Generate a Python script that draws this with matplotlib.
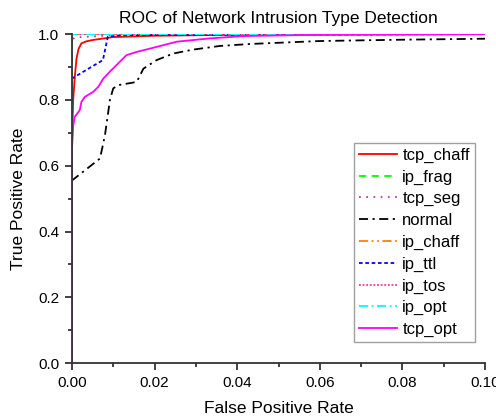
import matplotlib
matplotlib.use('Agg')
import matplotlib.pyplot as plt
from matplotlib.ticker import MultipleLocator

plt.rcParams['font.family'] = ['Liberation Sans', 'DejaVu Sans']

# ROC curves (false positive rate, true positive rate)
tcp_chaff_fpr = [0, 0, 0.0003, 0.0007, 0.0011, 0.0016, 0.0023, 0.0035, 0.005, 0.01, 0.02, 0.04, 0.1]
tcp_chaff_tpr = [0, 0.66, 0.80, 0.87, 0.925, 0.955, 0.972, 0.978, 0.982, 0.991, 0.995, 0.998, 1.0]

ip_frag_fpr = [0, 0, 0.0002, 0.1]
ip_frag_tpr = [0, 0.995, 1.0, 1.0]

tcp_seg_fpr = [0, 0, 0.001, 0.008, 0.012, 0.1]
tcp_seg_tpr = [0, 0.985, 0.99, 0.995, 1.0, 1.0]

normal_fpr = [0, 0, 0.0003, 0.0068, 0.008, 0.0092, 0.01, 0.0112, 0.0145, 0.0157, 0.0173,
              0.0205, 0.0245, 0.0294, 0.0358, 0.0431, 0.06, 0.08, 0.1]
normal_tpr = [0, 0.555, 0.558, 0.622, 0.693, 0.80, 0.835, 0.845, 0.852, 0.855, 0.895,
              0.921, 0.941, 0.953, 0.964, 0.970, 0.979, 0.983, 0.986]

ip_chaff_fpr = [0, 0, 0.0003, 0.1]
ip_chaff_tpr = [0, 0.99, 1.0, 1.0]

ip_ttl_fpr = [0, 0, 0.002, 0.0075, 0.0087, 0.012, 0.1]
ip_ttl_tpr = [0, 0.865, 0.88, 0.921, 0.992, 0.997, 1.0]

ip_tos_fpr = [0, 0, 0.0004, 0.1]
ip_tos_tpr = [0, 0.99, 1.0, 1.0]

ip_opt_fpr = [0, 0, 0.0002, 0.1]
ip_opt_tpr = [0, 0.998, 1.0, 1.0]

tcp_opt_fpr = [0, 0, 0.0003, 0.0007, 0.0019, 0.0023, 0.0031, 0.0052, 0.0064, 0.0076, 0.0092,
               0.0116, 0.0132, 0.0157, 0.0189, 0.0254, 0.0334, 0.0415, 0.06, 0.1]
tcp_opt_tpr = [0, 0.65, 0.72, 0.749, 0.769, 0.794, 0.809, 0.825, 0.840, 0.865, 0.886,
               0.916, 0.936, 0.946, 0.956, 0.977, 0.987, 0.994, 0.998, 1.0]

fig = plt.figure(figsize=(4.96, 4.16), dpi=100)
ax = fig.add_axes([0.145, 0.127, 0.833, 0.791])

lw = 1.3
ax.plot(tcp_chaff_fpr, tcp_chaff_tpr, color='#ff0000', lw=lw, label='tcp_chaff')
ax.plot(ip_frag_fpr, ip_frag_tpr, color='#00ff00', lw=lw, dashes=(4, 3), label='ip_frag')
ax.plot(tcp_seg_fpr, tcp_seg_tpr, color='#b040b0', lw=lw, dashes=(1, 3), label='tcp_seg')
ax.plot(normal_fpr, normal_tpr, color='black', lw=lw, dashes=(5, 2.5, 1.2, 2.5), label='normal')
ax.plot(ip_chaff_fpr, ip_chaff_tpr, color='#ff8000', lw=lw, dashes=(5, 2, 1, 2, 1, 2), label='ip_chaff')
ax.plot(ip_ttl_fpr, ip_ttl_tpr, color='#0000ff', lw=lw, dashes=(2, 1.5), label='ip_ttl')
ax.plot(ip_tos_fpr, ip_tos_tpr, color='#ff3399', lw=lw, dashes=(1, 1), label='ip_tos')
ax.plot(ip_opt_fpr, ip_opt_tpr, color='#00ffff', lw=lw, dashes=(5, 2, 1, 2), label='ip_opt')
ax.plot(tcp_opt_fpr, tcp_opt_tpr, color='#ff00ff', lw=lw, label='tcp_opt')

ax.set_xlim(0, 0.1)
ax.set_ylim(0, 1.0)
ax.xaxis.set_major_locator(MultipleLocator(0.02))
ax.xaxis.set_minor_locator(MultipleLocator(0.01))
ax.yaxis.set_major_locator(MultipleLocator(0.2))
ax.yaxis.set_minor_locator(MultipleLocator(0.1))
ax.xaxis.set_major_formatter(plt.FormatStrFormatter('%.2f'))
ax.yaxis.set_major_formatter(plt.FormatStrFormatter('%.1f'))

for s in ['top', 'right']:
    ax.spines[s].set_visible(False)
for s in ['left', 'bottom']:
    ax.spines[s].set_linewidth(1.3)
    ax.spines[s].set_color('#333333')
ax.tick_params(which='major', length=5, width=1.3, labelsize=11, direction='out', color='#333333', pad=4)
ax.tick_params(which='minor', length=3, width=1.3, direction='out', color='#333333')

ax.set_title('ROC of Network Intrusion Type Detection', fontsize=12.5, pad=8)
ax.set_xlabel('False Positive Rate', fontsize=12.5, labelpad=8)
ax.set_ylabel('True Positive Rate', fontsize=12.5, labelpad=9)

leg = ax.legend(loc='upper right', bbox_to_anchor=(0.975, 0.67), fontsize=12,
                frameon=True, fancybox=False, handlelength=2.3, handletextpad=0.3,
                labelspacing=0.4, borderpad=0.3, borderaxespad=0)
leg.get_frame().set_edgecolor('#888888')
leg.get_frame().set_linewidth(1.0)

fig.savefig('out.png', dpi=100)
